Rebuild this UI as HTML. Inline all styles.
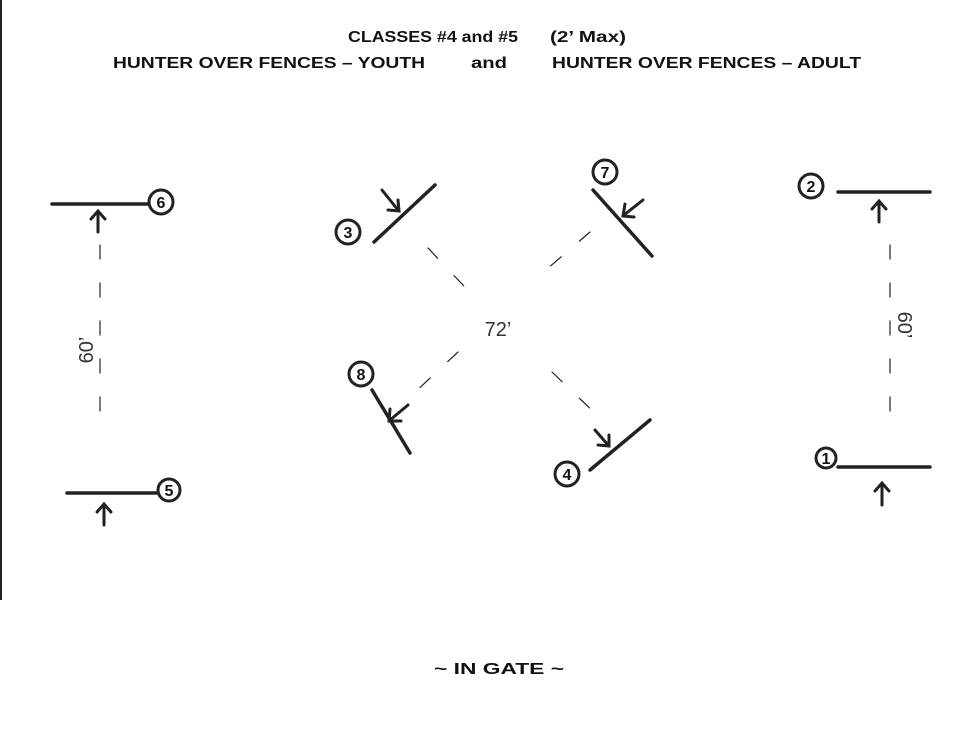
<!DOCTYPE html>
<html><head><meta charset="utf-8"><style>
html,body{margin:0;padding:0;background:#fff;}
svg{display:block}
</style></head><body>
<svg width="964" height="738" viewBox="0 0 964 738" xmlns="http://www.w3.org/2000/svg">
<rect width="964" height="738" fill="#fff"/>
<line x1="1" y1="0" x2="1" y2="600" stroke="#222" stroke-width="2"/>
<g font-family="Liberation Sans, sans-serif" font-weight="bold" font-size="16" fill="#111">
<text x="348" y="42" textLength="170" lengthAdjust="spacingAndGlyphs">CLASSES #4 and #5</text>
<text x="550" y="42" textLength="76" lengthAdjust="spacingAndGlyphs">(2’ Max)</text>
<text x="113" y="68" textLength="312" lengthAdjust="spacingAndGlyphs">HUNTER OVER FENCES – YOUTH</text>
<text x="471" y="68" textLength="36" lengthAdjust="spacingAndGlyphs">and</text>
<text x="552" y="68" textLength="309" lengthAdjust="spacingAndGlyphs">HUNTER OVER FENCES – ADULT</text>
<text x="434" y="674" textLength="130" lengthAdjust="spacingAndGlyphs">~ IN GATE ~</text>
</g>
<g stroke="#222" fill="none" stroke-linecap="round">
<g stroke-width="3.5">
<line x1="52" y1="204" x2="148" y2="204"/>
<line x1="67" y1="493" x2="156" y2="493"/>
<line x1="374" y1="242" x2="435" y2="185"/>
<line x1="593" y1="190" x2="652" y2="256"/>
<line x1="372" y1="390" x2="410" y2="453"/>
<line x1="590" y1="470" x2="650" y2="420"/>
<line x1="838" y1="192" x2="930" y2="192"/>
<line x1="838" y1="467" x2="930" y2="467"/>
</g>
<g stroke-width="3">
<circle cx="161" cy="202" r="12"/>
<circle cx="169" cy="490" r="11"/>
<circle cx="348" cy="232" r="12"/>
<circle cx="605" cy="172" r="12"/>
<circle cx="361" cy="374" r="12"/>
<circle cx="567" cy="474" r="12"/>
<circle cx="811" cy="186" r="12"/>
<circle cx="826" cy="458" r="10"/>
</g>
<g stroke-width="3">
<path d="M98 232 V212 M91 219 L98 211 L105 219"/>
<path d="M104 525 V505 M97 512 L104 504 L111 512"/>
<path d="M382 190 L398 210 M388 210 L399 211 L398 200"/>
<path d="M643 200 L624 215 M625 204 L623 216 L634 217"/>
<path d="M408 405 L390 420 M390 409 L389 421 L401 421"/>
<path d="M595 430 L608 445 M598 445 L609 446 L609 435"/>
<path d="M879 222 V202 M872 209 L879 201 L886 209"/>
<path d="M882 505 V484 M875 491 L882 483 L889 491"/>
</g>
<g stroke-width="1.2" stroke-dasharray="14 24">
<line x1="100" y1="245" x2="100" y2="425"/>
<line x1="890" y1="245" x2="890" y2="435"/>
<line x1="428" y1="248" x2="480" y2="303"/>
<line x1="552" y1="372" x2="600" y2="418"/>
<line x1="590" y1="232" x2="540" y2="275"/>
<line x1="458" y1="352" x2="412" y2="395"/>
</g>
</g>
<g font-family="Liberation Sans, sans-serif" font-weight="bold" font-size="16" fill="#111" text-anchor="middle">
<text x="161" y="208">6</text>
<text x="169" y="496">5</text>
<text x="348" y="238">3</text>
<text x="605" y="178">7</text>
<text x="361" y="380">8</text>
<text x="567" y="480">4</text>
<text x="811" y="192">2</text>
<text x="826" y="464">1</text>
</g>
<g font-family="Liberation Sans, sans-serif" font-size="20" fill="#333" text-anchor="middle">
<text x="498" y="336">72’</text>
<text transform="translate(93 350) rotate(-90)">60’</text>
<text transform="translate(898 325) rotate(90)">60’</text>
</g>
</svg>
</body></html>
